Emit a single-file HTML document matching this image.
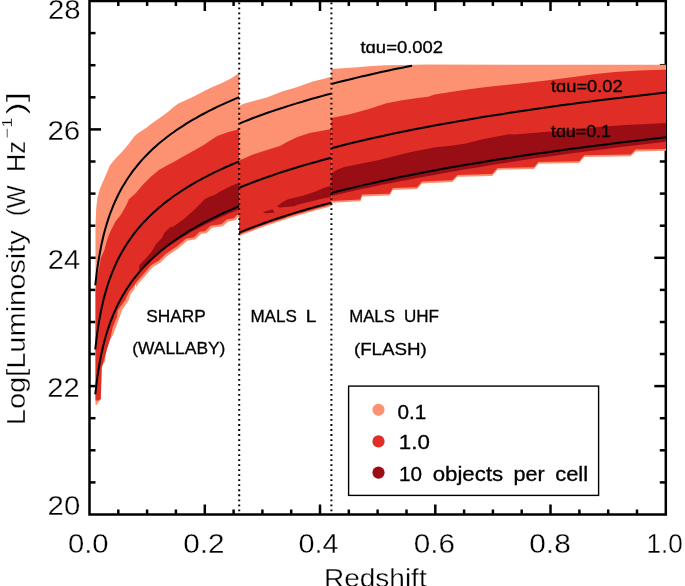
<!DOCTYPE html>
<html><head><meta charset="utf-8"><style>
html,body{margin:0;padding:0;background:#fff;width:685px;height:586px;overflow:hidden}
svg{display:block;will-change:transform}
</style></head><body>
<svg width="685" height="586" viewBox="0 0 685 586">
<rect x="0" y="0" width="685" height="586" fill="#fff"/>
<rect x="89.5" y="1.0" width="576.3" height="513.5" fill="none" stroke="#000" stroke-width="2.5"/>
<line x1="118.3" y1="514.5" x2="118.3" y2="509.5" stroke="#000" stroke-width="2.5"/>
<line x1="118.3" y1="1.0" x2="118.3" y2="6.0" stroke="#000" stroke-width="2.5"/>
<line x1="147.1" y1="514.5" x2="147.1" y2="509.5" stroke="#000" stroke-width="2.5"/>
<line x1="147.1" y1="1.0" x2="147.1" y2="6.0" stroke="#000" stroke-width="2.5"/>
<line x1="175.9" y1="514.5" x2="175.9" y2="509.5" stroke="#000" stroke-width="2.5"/>
<line x1="175.9" y1="1.0" x2="175.9" y2="6.0" stroke="#000" stroke-width="2.5"/>
<line x1="204.8" y1="514.5" x2="204.8" y2="504.5" stroke="#000" stroke-width="2.5"/>
<line x1="204.8" y1="1.0" x2="204.8" y2="11.0" stroke="#000" stroke-width="2.5"/>
<line x1="233.6" y1="514.5" x2="233.6" y2="509.5" stroke="#000" stroke-width="2.5"/>
<line x1="233.6" y1="1.0" x2="233.6" y2="6.0" stroke="#000" stroke-width="2.5"/>
<line x1="262.4" y1="514.5" x2="262.4" y2="509.5" stroke="#000" stroke-width="2.5"/>
<line x1="262.4" y1="1.0" x2="262.4" y2="6.0" stroke="#000" stroke-width="2.5"/>
<line x1="291.2" y1="514.5" x2="291.2" y2="509.5" stroke="#000" stroke-width="2.5"/>
<line x1="291.2" y1="1.0" x2="291.2" y2="6.0" stroke="#000" stroke-width="2.5"/>
<line x1="320.0" y1="514.5" x2="320.0" y2="504.5" stroke="#000" stroke-width="2.5"/>
<line x1="320.0" y1="1.0" x2="320.0" y2="11.0" stroke="#000" stroke-width="2.5"/>
<line x1="348.8" y1="514.5" x2="348.8" y2="509.5" stroke="#000" stroke-width="2.5"/>
<line x1="348.8" y1="1.0" x2="348.8" y2="6.0" stroke="#000" stroke-width="2.5"/>
<line x1="377.6" y1="514.5" x2="377.6" y2="509.5" stroke="#000" stroke-width="2.5"/>
<line x1="377.6" y1="1.0" x2="377.6" y2="6.0" stroke="#000" stroke-width="2.5"/>
<line x1="406.5" y1="514.5" x2="406.5" y2="509.5" stroke="#000" stroke-width="2.5"/>
<line x1="406.5" y1="1.0" x2="406.5" y2="6.0" stroke="#000" stroke-width="2.5"/>
<line x1="435.3" y1="514.5" x2="435.3" y2="504.5" stroke="#000" stroke-width="2.5"/>
<line x1="435.3" y1="1.0" x2="435.3" y2="11.0" stroke="#000" stroke-width="2.5"/>
<line x1="464.1" y1="514.5" x2="464.1" y2="509.5" stroke="#000" stroke-width="2.5"/>
<line x1="464.1" y1="1.0" x2="464.1" y2="6.0" stroke="#000" stroke-width="2.5"/>
<line x1="492.9" y1="514.5" x2="492.9" y2="509.5" stroke="#000" stroke-width="2.5"/>
<line x1="492.9" y1="1.0" x2="492.9" y2="6.0" stroke="#000" stroke-width="2.5"/>
<line x1="521.7" y1="514.5" x2="521.7" y2="509.5" stroke="#000" stroke-width="2.5"/>
<line x1="521.7" y1="1.0" x2="521.7" y2="6.0" stroke="#000" stroke-width="2.5"/>
<line x1="550.5" y1="514.5" x2="550.5" y2="504.5" stroke="#000" stroke-width="2.5"/>
<line x1="550.5" y1="1.0" x2="550.5" y2="11.0" stroke="#000" stroke-width="2.5"/>
<line x1="579.4" y1="514.5" x2="579.4" y2="509.5" stroke="#000" stroke-width="2.5"/>
<line x1="579.4" y1="1.0" x2="579.4" y2="6.0" stroke="#000" stroke-width="2.5"/>
<line x1="608.2" y1="514.5" x2="608.2" y2="509.5" stroke="#000" stroke-width="2.5"/>
<line x1="608.2" y1="1.0" x2="608.2" y2="6.0" stroke="#000" stroke-width="2.5"/>
<line x1="637.0" y1="514.5" x2="637.0" y2="509.5" stroke="#000" stroke-width="2.5"/>
<line x1="637.0" y1="1.0" x2="637.0" y2="6.0" stroke="#000" stroke-width="2.5"/>
<line x1="89.5" y1="482.4" x2="95.5" y2="482.4" stroke="#000" stroke-width="2.5"/>
<line x1="665.8" y1="482.4" x2="659.8" y2="482.4" stroke="#000" stroke-width="2.5"/>
<line x1="89.5" y1="450.3" x2="95.5" y2="450.3" stroke="#000" stroke-width="2.5"/>
<line x1="665.8" y1="450.3" x2="659.8" y2="450.3" stroke="#000" stroke-width="2.5"/>
<line x1="89.5" y1="418.2" x2="95.5" y2="418.2" stroke="#000" stroke-width="2.5"/>
<line x1="665.8" y1="418.2" x2="659.8" y2="418.2" stroke="#000" stroke-width="2.5"/>
<line x1="89.5" y1="386.1" x2="101.0" y2="386.1" stroke="#000" stroke-width="2.5"/>
<line x1="665.8" y1="386.1" x2="654.3" y2="386.1" stroke="#000" stroke-width="2.5"/>
<line x1="89.5" y1="354.0" x2="95.5" y2="354.0" stroke="#000" stroke-width="2.5"/>
<line x1="665.8" y1="354.0" x2="659.8" y2="354.0" stroke="#000" stroke-width="2.5"/>
<line x1="89.5" y1="322.0" x2="95.5" y2="322.0" stroke="#000" stroke-width="2.5"/>
<line x1="665.8" y1="322.0" x2="659.8" y2="322.0" stroke="#000" stroke-width="2.5"/>
<line x1="89.5" y1="289.9" x2="95.5" y2="289.9" stroke="#000" stroke-width="2.5"/>
<line x1="665.8" y1="289.9" x2="659.8" y2="289.9" stroke="#000" stroke-width="2.5"/>
<line x1="89.5" y1="257.8" x2="101.0" y2="257.8" stroke="#000" stroke-width="2.5"/>
<line x1="665.8" y1="257.8" x2="654.3" y2="257.8" stroke="#000" stroke-width="2.5"/>
<line x1="89.5" y1="225.7" x2="95.5" y2="225.7" stroke="#000" stroke-width="2.5"/>
<line x1="665.8" y1="225.7" x2="659.8" y2="225.7" stroke="#000" stroke-width="2.5"/>
<line x1="89.5" y1="193.6" x2="95.5" y2="193.6" stroke="#000" stroke-width="2.5"/>
<line x1="665.8" y1="193.6" x2="659.8" y2="193.6" stroke="#000" stroke-width="2.5"/>
<line x1="89.5" y1="161.5" x2="95.5" y2="161.5" stroke="#000" stroke-width="2.5"/>
<line x1="665.8" y1="161.5" x2="659.8" y2="161.5" stroke="#000" stroke-width="2.5"/>
<line x1="89.5" y1="129.4" x2="101.0" y2="129.4" stroke="#000" stroke-width="2.5"/>
<line x1="665.8" y1="129.4" x2="654.3" y2="129.4" stroke="#000" stroke-width="2.5"/>
<line x1="89.5" y1="97.3" x2="95.5" y2="97.3" stroke="#000" stroke-width="2.5"/>
<line x1="665.8" y1="97.3" x2="659.8" y2="97.3" stroke="#000" stroke-width="2.5"/>
<line x1="89.5" y1="65.2" x2="95.5" y2="65.2" stroke="#000" stroke-width="2.5"/>
<line x1="665.8" y1="65.2" x2="659.8" y2="65.2" stroke="#000" stroke-width="2.5"/>
<line x1="89.5" y1="33.1" x2="95.5" y2="33.1" stroke="#000" stroke-width="2.5"/>
<line x1="665.8" y1="33.1" x2="659.8" y2="33.1" stroke="#000" stroke-width="2.5"/>
<polygon points="95.5,404.9 95.5,224.6 96.2,208.2 97.5,197.3 100.3,187.7 104.4,178.2 107.1,172.3 109.8,165.5 115.3,158.7 122.1,151.8 128.9,143.7 134.4,136.2 138.5,132.7 145.3,128.6 152.1,123.2 161.7,116.4 168.2,111.8 173.6,107.0 178.4,103.4 187.3,99.6 194.1,96.2 200.9,92.7 211.8,87.3 221.4,83.2 230.9,78.4 238.4,73.6 239.2,73.3 239.2,216.0 239.9,216.1 235.2,220.2 228.3,221.6 222.9,226.3 212.0,227.7 206.5,233.2 201.1,233.8 195.6,239.3 187.4,240.7 177.9,248.8 169.7,254.3 166.8,256.3 160.6,262.5 154.5,266.0 152.4,267.6 145.3,275.8 138.1,284.0 136.1,287.0 135.6,283.0 134.6,289.1 130.5,294.2 128.9,300.0 122.2,310.0 117.9,322.0 112.8,335.6 106.8,344.2 105.1,361.3 101.7,366.4 100.8,398.9 96.5,404.9" fill="#fc9272"/>
<polygon points="95.5,400.6 95.5,290.0 96.5,280.0 99.0,268.0 100.8,258.0 104.4,250.0 106.8,241.0 109.8,232.8 115.3,221.8 120.7,215.0 126.2,205.5 128.9,199.3 135.7,193.2 142.6,185.0 150.8,176.8 158.9,170.0 165.5,166.2 173.6,162.1 183.2,156.6 194.1,150.5 203.7,145.0 211.8,139.5 217.3,136.1 228.2,132.0 236.4,130.0 238.4,127.5 239.2,127.3 239.2,214.0 238.4,214.1 233.7,218.2 226.8,219.6 221.4,224.3 210.5,225.7 205.0,231.2 199.6,231.8 194.1,237.3 185.9,238.7 176.4,246.8 168.2,252.3 165.3,254.3 159.1,260.5 153.0,264.0 150.9,265.6 143.8,273.8 136.6,282.0 134.6,285.0 129.4,291.2 126.4,297.3 125.4,300.0 117.9,310.0 117.1,316.8 112.8,327.1 110.2,339.0 106.0,352.7 101.7,368.0 100.8,398.9 98.3,400.6" fill="#e02d26"/>
<polygon points="139.2,265.2 145.3,259.1 152.1,250.9 156.2,243.7 161.7,238.2 164.4,232.8 170.0,227.3 173.6,226.4 183.2,219.6 194.1,210.0 200.9,203.2 205.0,199.1 209.1,196.8 214.6,195.0 220.0,191.4 231.0,185.9 237.8,183.2 239.2,182.5 239.2,209.2 236.6,210.3 234.1,211.4 231.5,212.5 228.9,213.6 226.4,214.7 223.8,215.9 221.3,217.1 218.7,218.3 216.1,219.5 213.6,220.7 211.0,222.0 208.4,223.3 205.9,224.5 203.3,225.8 200.7,227.1 198.2,228.4 195.6,229.7 193.0,231.1 190.5,232.6 187.9,234.0 185.4,235.5 182.8,237.1 180.2,238.7 177.7,240.3 175.1,242.0 172.5,243.7 170.0,245.5 167.4,247.3 164.8,249.2 162.3,251.2 159.7,253.2 157.1,255.4 154.6,257.5 152.0,259.8 149.5,262.2 146.9,264.8 144.3,267.5 141.8,270.3 139.2,273.2" fill="#990e15"/>
<polygon points="239.2,106.1 243.7,103.8 254.4,100.7 266.7,97.6 282.1,91.5 297.4,86.9 312.8,81.5 322.0,79.2 331.4,76.7 331.4,206.1 326.5,207.4 321.7,208.7 316.8,210.0 312.0,211.4 307.1,212.8 302.3,214.2 297.4,215.6 292.6,217.1 287.7,218.6 282.9,220.2 278.0,221.8 273.2,223.4 268.3,225.1 263.5,226.8 258.6,228.6 253.8,230.4 248.9,232.2 244.1,234.1 239.2,236.1" fill="#fc9272"/>
<polygon points="239.2,160.5 253.0,154.5 270.0,149.0 280.0,146.0 287.0,142.0 297.4,137.0 309.7,133.0 322.0,130.7 331.4,129.0 331.4,204.6 326.5,205.9 321.7,207.2 316.8,208.5 312.0,209.9 307.1,211.3 302.3,212.7 297.4,214.1 292.6,215.6 287.7,217.1 282.9,218.7 278.0,220.3 273.2,221.9 268.3,223.6 263.5,225.3 258.6,227.1 253.8,228.9 248.9,230.7 244.1,232.6 239.2,234.6" fill="#e02d26"/>
<polygon points="276.9,206.3 282.7,201.9 288.6,199.0 301.7,196.1 314.8,191.7 323.6,188.0 331.4,185.5 331.4,197.0 323.6,198.2 314.8,200.4 297.3,204.8 294.4,206.3 279.8,207.4" fill="#990e15"/>
<polygon points="263.0,212.1 268.0,210.5 272.5,209.2 274.7,212.8 265.2,213.3" fill="#990e15"/>
<polygon points="331.4,69.0 342.6,68.2 357.2,67.2 371.8,66.1 386.4,65.3 401.0,64.9 428.0,64.6 666.0,64.8 666.0,150.8 635.6,151.4 630.8,156.2 584.3,157.0 579.2,163.1 538.4,163.8 534.0,169.0 497.6,169.8 492.2,175.9 457.6,176.7 452.3,182.1 422.0,183.4 417.1,189.1 392.8,189.9 389.6,195.5 362.0,196.4 360.4,201.2 331.4,202.8" fill="#fc9272"/>
<polygon points="331.4,117.9 349.9,114.2 368.9,109.1 386.4,103.3 401.0,100.4 415.6,98.2 428.0,96.7 434.6,94.5 449.2,92.3 463.8,90.1 478.4,88.0 493.0,86.2 507.6,84.7 520.0,83.6 544.2,80.7 573.4,77.0 595.3,74.1 615.0,71.9 639.0,70.5 652.6,70.1 666.0,69.8 666.0,149.0 635.6,149.6 630.8,154.4 584.3,155.2 579.2,161.3 538.4,162.0 534.0,167.2 497.6,168.0 492.2,174.1 457.6,174.9 452.3,180.3 422.0,181.6 417.1,187.3 392.8,188.1 389.6,193.7 362.0,194.6 360.4,199.4 331.4,201.0" fill="#e02d26"/>
<polygon points="331.4,173.5 337.7,169.4 344.2,167.0 360.4,163.8 376.6,160.5 392.8,156.5 409.0,152.4 420.0,150.3 435.4,147.2 450.7,145.7 466.1,143.4 481.4,139.6 496.8,136.5 509.1,134.2 515.0,134.4 550.0,131.4 566.1,130.4 598.0,127.1 625.3,125.1 652.6,123.7 666.0,123.0 666.0,141.8 657.4,142.8 648.8,143.8 640.3,144.8 631.7,145.8 623.1,146.8 614.5,147.8 605.9,148.9 597.4,150.0 588.8,151.1 580.2,152.2 571.6,153.3 563.0,154.5 554.5,155.7 545.9,156.9 537.3,158.1 528.7,159.3 520.1,160.6 511.6,161.9 503.0,163.2 494.4,164.6 485.8,166.0 477.3,167.4 468.7,168.8 460.1,170.3 451.5,171.8 442.9,173.3 434.4,174.9 425.8,176.5 417.2,178.1 408.6,179.7 400.0,181.3 391.5,182.9 382.9,184.6 374.3,186.4 365.7,188.2 357.1,190.0 348.6,192.0 340.0,194.0 331.4,196.0" fill="#990e15"/>
<polyline points="95.3,285.3 95.4,284.0 95.7,281.6 96.1,278.3 96.5,274.6 97.0,270.6 97.6,266.4 98.3,262.0 99.0,257.7 99.8,253.3 100.6,249.0 101.4,244.7 102.4,240.5 103.3,236.5 104.3,232.5 105.4,228.6 106.5,224.8 107.6,221.1 108.8,217.5 110.0,214.0 111.3,210.7 112.6,207.4 113.9,204.1 115.3,201.0 116.7,198.0 118.1,195.0 119.6,192.1 121.1,189.3 122.7,186.6 124.3,183.9 125.9,181.3 127.5,178.7 129.2,176.2 130.9,173.8 132.6,171.4 134.4,169.1 136.2,166.8 138.1,164.5 139.9,162.3 141.8,160.2 143.7,158.1 145.7,156.0 147.7,154.0 149.7,152.0 151.7,150.0 153.8,148.1 155.9,146.2 158.0,144.3 160.1,142.5 162.3,140.7 164.5,139.0 166.7,137.2 169.0,135.5 171.3,133.8 173.6,132.2 175.9,130.5 178.3,128.9 180.7,127.3 183.1,125.8 185.5,124.2 188.0,122.7 190.4,121.2 193.0,119.7 195.5,118.3 198.0,116.8 200.6,115.4 203.2,114.0 205.9,112.6 208.5,111.2 211.2,109.9 213.9,108.5 216.6,107.2 219.3,105.9 222.1,104.6 224.9,103.3 227.7,102.1 230.6,100.8 233.4,99.6 236.3,98.4 239.2,97.2" fill="none" stroke="#000" stroke-width="2.0" stroke-linejoin="round"/>
<polyline points="95.3,349.5 95.4,348.2 95.7,345.7 96.1,342.5 96.5,338.8 97.0,334.8 97.6,330.6 98.3,326.2 99.0,321.8 99.8,317.5 100.6,313.2 101.4,308.9 102.4,304.7 103.3,300.6 104.3,296.6 105.4,292.8 106.5,289.0 107.6,285.3 108.8,281.7 110.0,278.2 111.3,274.8 112.6,271.5 113.9,268.3 115.3,265.2 116.7,262.2 118.1,259.2 119.6,256.3 121.1,253.5 122.7,250.8 124.3,248.1 125.9,245.5 127.5,242.9 129.2,240.4 130.9,238.0 132.6,235.6 134.4,233.2 136.2,230.9 138.1,228.7 139.9,226.5 141.8,224.4 143.7,222.2 145.7,220.2 147.7,218.1 149.7,216.1 151.7,214.2 153.8,212.3 155.9,210.4 158.0,208.5 160.1,206.7 162.3,204.9 164.5,203.1 166.7,201.4 169.0,199.7 171.3,198.0 173.6,196.3 175.9,194.7 178.3,193.1 180.7,191.5 183.1,189.9 185.5,188.4 188.0,186.9 190.4,185.4 193.0,183.9 195.5,182.4 198.0,181.0 200.6,179.6 203.2,178.2 205.9,176.8 208.5,175.4 211.2,174.1 213.9,172.7 216.6,171.4 219.3,170.1 222.1,168.8 224.9,167.5 227.7,166.3 230.6,165.0 233.4,163.8 236.3,162.6 239.2,161.4" fill="none" stroke="#000" stroke-width="2.0" stroke-linejoin="round"/>
<polyline points="95.3,394.4 95.4,393.1 95.7,390.6 96.1,387.4 96.5,383.7 97.0,379.6 97.6,375.4 98.3,371.1 99.0,366.7 99.8,362.3 100.6,358.0 101.4,353.8 102.4,349.6 103.3,345.5 104.3,341.5 105.4,337.6 106.5,333.8 107.6,330.2 108.8,326.6 110.0,323.1 111.3,319.7 112.6,316.4 113.9,313.2 115.3,310.1 116.7,307.0 118.1,304.1 119.6,301.2 121.1,298.4 122.7,295.6 124.3,292.9 125.9,290.3 127.5,287.8 129.2,285.3 130.9,282.8 132.6,280.4 134.4,278.1 136.2,275.8 138.1,273.6 139.9,271.4 141.8,269.2 143.7,267.1 145.7,265.0 147.7,263.0 149.7,261.0 151.7,259.1 153.8,257.1 155.9,255.2 158.0,253.4 160.1,251.6 162.3,249.8 164.5,248.0 166.7,246.3 169.0,244.5 171.3,242.9 173.6,241.2 175.9,239.6 178.3,238.0 180.7,236.4 183.1,234.8 185.5,233.3 188.0,231.7 190.4,230.2 193.0,228.8 195.5,227.3 198.0,225.9 200.6,224.4 203.2,223.0 205.9,221.6 208.5,220.3 211.2,218.9 213.9,217.6 216.6,216.3 219.3,215.0 222.1,213.7 224.9,212.4 227.7,211.1 230.6,209.9 233.4,208.6 236.3,207.4 239.2,206.2" fill="none" stroke="#000" stroke-width="2.0" stroke-linejoin="round"/>
<polyline points="239.2,123.6 244.1,121.6 248.9,119.7 253.8,117.8 258.6,116.0 263.5,114.3 268.3,112.5 273.2,110.9 278.0,109.2 282.9,107.7 287.7,106.1 292.6,104.6 297.4,103.1 302.3,101.7 307.1,100.2 312.0,98.8 316.8,97.5 321.7,96.1 326.5,94.8 331.4,93.6" fill="none" stroke="#000" stroke-width="2.0" stroke-linejoin="round"/>
<polyline points="239.2,187.7 244.1,185.8 248.9,183.9 253.8,182.0 258.6,180.2 263.5,178.4 268.3,176.7 273.2,175.1 278.0,173.4 282.9,171.8 287.7,170.3 292.6,168.8 297.4,167.3 302.3,165.8 307.1,164.4 312.0,163.0 316.8,161.7 321.7,160.3 326.5,159.0 331.4,157.7" fill="none" stroke="#000" stroke-width="2.0" stroke-linejoin="round"/>
<polyline points="239.2,232.6 244.1,230.6 248.9,228.7 253.8,226.9 258.6,225.1 263.5,223.3 268.3,221.6 273.2,219.9 278.0,218.3 282.9,216.7 287.7,215.1 292.6,213.6 297.4,212.1 302.3,210.7 307.1,209.3 312.0,207.9 316.8,206.5 321.7,205.2 326.5,203.9 331.4,202.6" fill="none" stroke="#000" stroke-width="2.0" stroke-linejoin="round"/>
<polyline points="331.4,84.0 335.6,82.9 339.9,81.8 344.1,80.7 348.4,79.7 352.6,78.7 356.9,77.6 361.1,76.6 365.3,75.7 369.6,74.7 373.8,73.7 378.1,72.8 382.3,71.8 386.5,70.9 390.8,70.0 395.0,69.1 399.3,68.2 403.5,67.4 407.8,66.5 412.0,65.7" fill="none" stroke="#000" stroke-width="2.0" stroke-linejoin="round"/>
<polyline points="331.4,148.2 340.0,146.0 348.6,143.8 357.1,141.8 365.7,139.7 374.3,137.8 382.9,135.9 391.5,134.1 400.0,132.3 408.6,130.5 417.2,128.8 425.8,127.2 434.4,125.5 442.9,124.0 451.5,122.4 460.1,120.9 468.7,119.5 477.3,118.0 485.8,116.6 494.4,115.2 503.0,113.9 511.6,112.5 520.1,111.3 528.7,110.0 537.3,108.7 545.9,107.5 554.5,106.3 563.0,105.1 571.6,104.0 580.2,102.8 588.8,101.7 597.4,100.6 605.9,99.5 614.5,98.5 623.1,97.4 631.7,96.4 640.3,95.4 648.8,94.4 657.4,93.4 666.0,92.5" fill="none" stroke="#000" stroke-width="2.0" stroke-linejoin="round"/>
<polyline points="331.4,193.0 340.0,190.8 348.6,188.7 357.1,186.6 365.7,184.6 374.3,182.7 382.9,180.8 391.5,178.9 400.0,177.1 408.6,175.4 417.2,173.7 425.8,172.0 434.4,170.4 442.9,168.8 451.5,167.3 460.1,165.8 468.7,164.3 477.3,162.9 485.8,161.5 494.4,160.1 503.0,158.7 511.6,157.4 520.1,156.1 528.7,154.8 537.3,153.6 545.9,152.4 554.5,151.2 563.0,150.0 571.6,148.8 580.2,147.7 588.8,146.6 597.4,145.5 605.9,144.4 614.5,143.3 623.1,142.3 631.7,141.3 640.3,140.3 648.8,139.3 657.4,138.3 666.0,137.3" fill="none" stroke="#000" stroke-width="2.0" stroke-linejoin="round"/>
<line x1="239.2" y1="2.4" x2="239.2" y2="514" stroke="#000" stroke-width="2" stroke-dasharray="1.8 3.22"/>
<line x1="331.4" y1="2.4" x2="331.4" y2="514" stroke="#000" stroke-width="2" stroke-dasharray="1.8 3.22"/>
<rect x="348.6" y="386.1" width="250" height="109.3" fill="#fff" stroke="#000" stroke-width="1.4"/>
<circle cx="378.5" cy="409.8" r="6.1" fill="#fc9272"/>
<circle cx="378.5" cy="441.4" r="6.1" fill="#e02d26"/>
<circle cx="378.5" cy="472.6" r="6.1" fill="#990e15"/>
<text x="67.92" y="553.2" font-size="27" text-anchor="start" textLength="40.68" lengthAdjust="spacingAndGlyphs" font-family="Liberation Sans, sans-serif" stroke="#fff" stroke-width="0.3">0.0</text>
<text x="183.2" y="553.2" font-size="27" text-anchor="start" textLength="41.3" lengthAdjust="spacingAndGlyphs" font-family="Liberation Sans, sans-serif" stroke="#fff" stroke-width="0.3">0.2</text>
<text x="298.53" y="553.2" font-size="27" text-anchor="start" textLength="40.15" lengthAdjust="spacingAndGlyphs" font-family="Liberation Sans, sans-serif" stroke="#fff" stroke-width="0.3">0.4</text>
<text x="413.8" y="553.2" font-size="27" text-anchor="start" textLength="41.3" lengthAdjust="spacingAndGlyphs" font-family="Liberation Sans, sans-serif" stroke="#fff" stroke-width="0.3">0.6</text>
<text x="529.3" y="553.2" font-size="27" text-anchor="start" textLength="41.41" lengthAdjust="spacingAndGlyphs" font-family="Liberation Sans, sans-serif" stroke="#fff" stroke-width="0.3">0.8</text>
<text x="646.57" y="553.2" font-size="27" text-anchor="start" textLength="36.26" lengthAdjust="spacingAndGlyphs" font-family="Liberation Sans, sans-serif" stroke="#fff" stroke-width="0.3">1.0</text>
<text x="47.61" y="514.8" font-size="27" text-anchor="start" textLength="32.62" lengthAdjust="spacingAndGlyphs" font-family="Liberation Sans, sans-serif" stroke="#fff" stroke-width="0.3">20</text>
<text x="47.32" y="397.3" font-size="27" text-anchor="start" textLength="32.41" lengthAdjust="spacingAndGlyphs" font-family="Liberation Sans, sans-serif" stroke="#fff" stroke-width="0.3">22</text>
<text x="47.72" y="268.5" font-size="27" text-anchor="start" textLength="32.41" lengthAdjust="spacingAndGlyphs" font-family="Liberation Sans, sans-serif" stroke="#fff" stroke-width="0.3">24</text>
<text x="47.4" y="140.4" font-size="27" text-anchor="start" textLength="32.94" lengthAdjust="spacingAndGlyphs" font-family="Liberation Sans, sans-serif" stroke="#fff" stroke-width="0.3">26</text>
<text x="47.91" y="19.3" font-size="27" text-anchor="start" textLength="32.62" lengthAdjust="spacingAndGlyphs" font-family="Liberation Sans, sans-serif" stroke="#fff" stroke-width="0.3">28</text>
<text x="323.9" y="586.5" font-size="25.5" text-anchor="start" textLength="102.8" lengthAdjust="spacingAndGlyphs" font-family="Liberation Sans, sans-serif" stroke="#fff" stroke-width="0.3">Redshift</text>
<text x="397.54" y="418.6" font-size="19.5" text-anchor="start" textLength="28.84" lengthAdjust="spacingAndGlyphs" font-family="Liberation Sans, sans-serif" stroke="#000" stroke-width="0.3">0.1</text>
<text x="398.81" y="449.3" font-size="19.5" text-anchor="start" textLength="31.06" lengthAdjust="spacingAndGlyphs" font-family="Liberation Sans, sans-serif" stroke="#000" stroke-width="0.3">1.0</text>
<text x="399.07" y="481" font-size="19.5" text-anchor="start" textLength="23.07" lengthAdjust="spacingAndGlyphs" font-family="Liberation Sans, sans-serif" stroke="#000" stroke-width="0.3">10</text>
<text x="432.66" y="481" font-size="19.5" text-anchor="start" textLength="70.55" lengthAdjust="spacingAndGlyphs" font-family="Liberation Sans, sans-serif" stroke="#000" stroke-width="0.3">objects</text>
<text x="513.59" y="481" font-size="19.5" text-anchor="start" textLength="31.22" lengthAdjust="spacingAndGlyphs" font-family="Liberation Sans, sans-serif" stroke="#000" stroke-width="0.3">per</text>
<text x="555.17" y="481" font-size="19.5" text-anchor="start" textLength="32.95" lengthAdjust="spacingAndGlyphs" font-family="Liberation Sans, sans-serif" stroke="#000" stroke-width="0.3">cell</text>
<text x="146.2" y="322.3" font-size="17.3" text-anchor="start" textLength="59.55" lengthAdjust="spacingAndGlyphs" font-family="Liberation Sans, sans-serif" stroke="#000" stroke-width="0.3">SHARP</text>
<text x="132.19" y="354.1" font-size="17.3" text-anchor="start" textLength="93.23" lengthAdjust="spacingAndGlyphs" font-family="Liberation Sans, sans-serif" stroke="#000" stroke-width="0.3">(WALLABY)</text>
<text x="250.41" y="321.9" font-size="17.3" text-anchor="start" textLength="46.44" lengthAdjust="spacingAndGlyphs" font-family="Liberation Sans, sans-serif" stroke="#000" stroke-width="0.3">MALS</text>
<text x="305.8" y="321.9" font-size="17.3" text-anchor="start" textLength="10.59" lengthAdjust="spacingAndGlyphs" font-family="Liberation Sans, sans-serif" stroke="#000" stroke-width="0.3">L</text>
<text x="349.13" y="322.3" font-size="17.3" text-anchor="start" textLength="45.81" lengthAdjust="spacingAndGlyphs" font-family="Liberation Sans, sans-serif" stroke="#000" stroke-width="0.3">MALS</text>
<text x="403.91" y="322.3" font-size="17.3" text-anchor="start" textLength="35.01" lengthAdjust="spacingAndGlyphs" font-family="Liberation Sans, sans-serif" stroke="#000" stroke-width="0.3">UHF</text>
<text x="353.92" y="354.8" font-size="17.3" text-anchor="start" textLength="72.91" lengthAdjust="spacingAndGlyphs" font-family="Liberation Sans, sans-serif" stroke="#000" stroke-width="0.3">(FLASH)</text>
<text x="360.5" y="53.1" font-size="16" text-anchor="start" textLength="82.52" lengthAdjust="spacingAndGlyphs" font-family="Liberation Sans, sans-serif" stroke="#000" stroke-width="0.3">tɑu=0.002</text>
<text x="551.0" y="92.1" font-size="16" text-anchor="start" textLength="71.64" lengthAdjust="spacingAndGlyphs" font-family="Liberation Sans, sans-serif" stroke="#000" stroke-width="0.3">tɑu=0.02</text>
<text x="551.0" y="137.2" font-size="16" text-anchor="start" textLength="59.92" lengthAdjust="spacingAndGlyphs" font-family="Liberation Sans, sans-serif" stroke="#000" stroke-width="0.3">tɑu=0.1</text>
<text transform="rotate(-90)" x="-425.2" y="24.6" font-size="25.5" textLength="195" lengthAdjust="spacingAndGlyphs" stroke="#fff" stroke-width="0.3" font-family="Liberation Sans, sans-serif">Log[Luminosity</text>
<text transform="rotate(-90)" x="-216.3" y="24.6" font-size="25.5" textLength="31" lengthAdjust="spacingAndGlyphs" stroke="#fff" stroke-width="0.3" font-family="Liberation Sans, sans-serif">(W</text>
<text transform="rotate(-90)" x="-172.0" y="24.6" font-size="25.5" textLength="31" lengthAdjust="spacingAndGlyphs" stroke="#fff" stroke-width="0.3" font-family="Liberation Sans, sans-serif">Hz</text>
<text transform="rotate(-90)" x="-138.5" y="11.5" font-size="15" textLength="21" lengthAdjust="spacingAndGlyphs" stroke="#fff" stroke-width="0.3" font-family="Liberation Sans, sans-serif">−1</text>
<text transform="rotate(-90)" x="-114.5" y="24.6" font-size="25.5" textLength="22.5" lengthAdjust="spacingAndGlyphs" stroke="#fff" stroke-width="0.3" font-family="Liberation Sans, sans-serif">)]</text>
</svg>
</body></html>
